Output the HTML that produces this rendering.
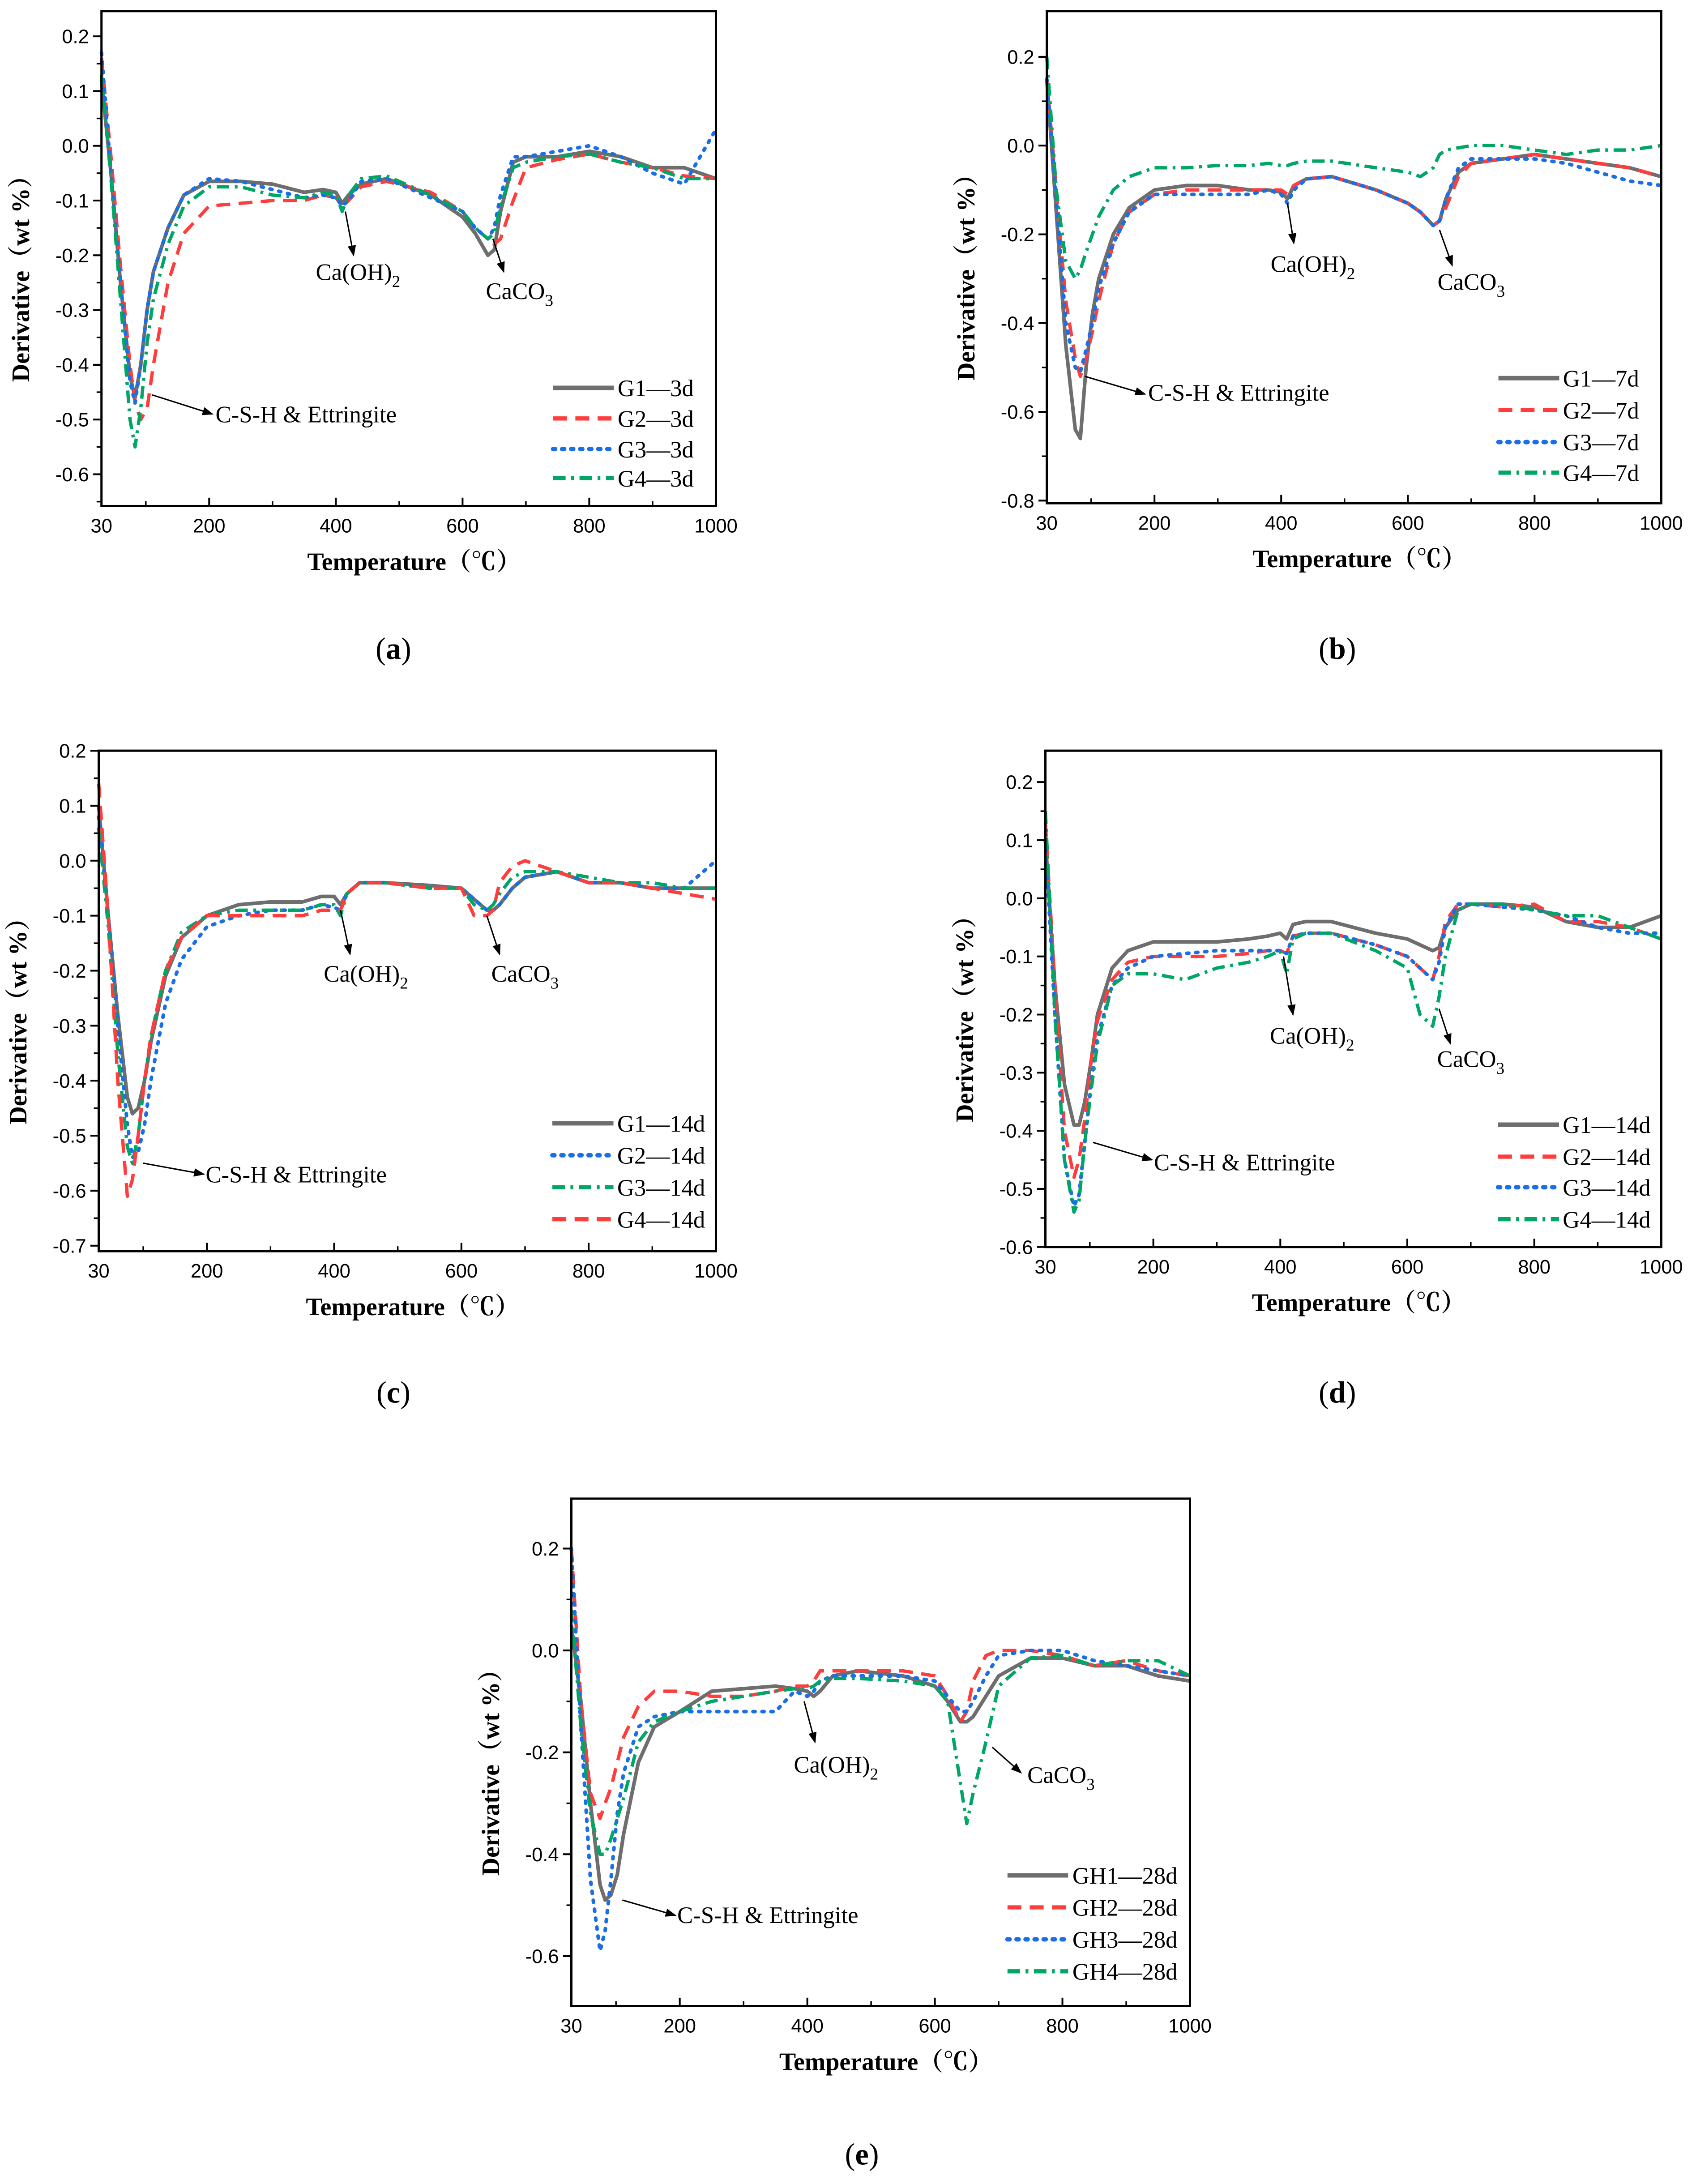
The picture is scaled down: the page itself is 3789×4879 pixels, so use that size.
<!DOCTYPE html>
<html><head><meta charset="utf-8"><style>
html,body{margin:0;padding:0;background:#fff}
svg{display:block}
.tk{font-family:"Liberation Sans",Arial,sans-serif;font-size:14px;fill:#000}
.ser{font-family:"Liberation Serif","Noto Serif CJK SC",serif;fill:#000}
</style></head><body>
<svg id="fig" width="3789" height="4879" viewBox="0 0 1220 1571" preserveAspectRatio="none" xmlns="http://www.w3.org/2000/svg">
<defs><marker id="arr" markerWidth="8" markerHeight="8" refX="7" refY="4" orient="auto" markerUnits="userSpaceOnUse"><path d="M0,1 L8,4 L0,7 Z" fill="#000"/></marker></defs>
</svg>
<script>
const temps=[30,45,60,75,83,92,102,112,135,160,200,250,300,350,380,400,410,420,440,480,550,600,620,640,650,660,680,700,750,800,850,900,950,1000];
const a_G1=[0.12,-0.05,-0.25,-0.42,-0.46,-0.40,-0.30,-0.23,-0.15,-0.09,-0.065,-0.065,-0.07,-0.085,-0.08,-0.085,-0.105,-0.09,-0.07,-0.06,-0.09,-0.13,-0.16,-0.2,-0.19,-0.12,-0.03,-0.02,-0.02,-0.01,-0.02,-0.04,-0.04,-0.06];
const a_G2=[0.16,-0.02,-0.22,-0.40,-0.47,-0.50,-0.48,-0.40,-0.25,-0.16,-0.11,-0.105,-0.10,-0.10,-0.09,-0.095,-0.11,-0.10,-0.075,-0.065,-0.085,-0.12,-0.15,-0.17,-0.18,-0.17,-0.10,-0.04,-0.025,-0.015,-0.03,-0.04,-0.055,-0.06];
const a_G3=[0.17,-0.05,-0.25,-0.43,-0.47,-0.40,-0.30,-0.23,-0.15,-0.09,-0.06,-0.065,-0.08,-0.095,-0.09,-0.095,-0.11,-0.10,-0.065,-0.06,-0.095,-0.12,-0.15,-0.17,-0.15,-0.09,-0.02,-0.02,-0.01,0.0,-0.02,-0.05,-0.07,0.03];
const a_G4=[0.13,-0.06,-0.28,-0.50,-0.55,-0.48,-0.36,-0.28,-0.18,-0.11,-0.075,-0.075,-0.09,-0.095,-0.085,-0.09,-0.12,-0.09,-0.06,-0.055,-0.09,-0.12,-0.15,-0.17,-0.16,-0.11,-0.04,-0.03,-0.02,-0.015,-0.03,-0.04,-0.06,-0.06];
const b_G1=[0.15,-0.15,-0.45,-0.64,-0.66,-0.50,-0.38,-0.30,-0.20,-0.14,-0.10,-0.09,-0.09,-0.10,-0.10,-0.105,-0.12,-0.09,-0.075,-0.07,-0.10,-0.13,-0.15,-0.18,-0.17,-0.12,-0.06,-0.04,-0.03,-0.02,-0.03,-0.04,-0.05,-0.07];
const b_G2=[0.15,-0.1,-0.35,-0.48,-0.52,-0.48,-0.42,-0.35,-0.22,-0.15,-0.11,-0.10,-0.10,-0.10,-0.10,-0.10,-0.11,-0.09,-0.075,-0.07,-0.10,-0.13,-0.15,-0.18,-0.17,-0.14,-0.07,-0.04,-0.03,-0.02,-0.03,-0.04,-0.05,-0.07];
const b_G3=[0.15,-0.12,-0.40,-0.50,-0.51,-0.46,-0.40,-0.32,-0.22,-0.15,-0.11,-0.11,-0.11,-0.11,-0.10,-0.11,-0.13,-0.10,-0.075,-0.07,-0.10,-0.13,-0.15,-0.18,-0.17,-0.12,-0.05,-0.03,-0.03,-0.03,-0.04,-0.06,-0.08,-0.09];
const b_G4=[0.2,-0.1,-0.26,-0.30,-0.28,-0.24,-0.20,-0.16,-0.10,-0.07,-0.05,-0.05,-0.045,-0.045,-0.04,-0.045,-0.045,-0.04,-0.035,-0.035,-0.05,-0.06,-0.07,-0.05,-0.02,-0.01,-0.005,0.0,0.0,-0.01,-0.02,-0.01,-0.01,0.0];
const c_G1=[0.1,-0.1,-0.28,-0.43,-0.46,-0.45,-0.40,-0.33,-0.21,-0.14,-0.10,-0.08,-0.075,-0.075,-0.065,-0.065,-0.08,-0.06,-0.04,-0.04,-0.045,-0.05,-0.07,-0.09,-0.09,-0.08,-0.05,-0.03,-0.02,-0.04,-0.04,-0.05,-0.05,-0.05];
const c_G2=[0.08,-0.1,-0.30,-0.48,-0.54,-0.53,-0.48,-0.40,-0.26,-0.18,-0.12,-0.10,-0.09,-0.09,-0.08,-0.085,-0.09,-0.06,-0.04,-0.04,-0.05,-0.05,-0.07,-0.09,-0.09,-0.08,-0.05,-0.03,-0.02,-0.04,-0.04,-0.05,-0.05,0.0];
const c_G3=[0.06,-0.12,-0.35,-0.52,-0.55,-0.50,-0.40,-0.32,-0.20,-0.13,-0.10,-0.09,-0.09,-0.09,-0.08,-0.08,-0.10,-0.06,-0.04,-0.04,-0.05,-0.05,-0.08,-0.09,-0.08,-0.06,-0.03,-0.02,-0.02,-0.03,-0.04,-0.04,-0.05,-0.05];
const c_G4=[0.14,-0.1,-0.40,-0.61,-0.58,-0.50,-0.40,-0.32,-0.20,-0.14,-0.10,-0.10,-0.10,-0.10,-0.09,-0.09,-0.09,-0.06,-0.04,-0.04,-0.05,-0.05,-0.10,-0.10,-0.09,-0.04,-0.01,0.0,-0.02,-0.04,-0.04,-0.05,-0.06,-0.07];
const d_G1=[0.1,-0.15,-0.32,-0.39,-0.39,-0.35,-0.28,-0.20,-0.12,-0.09,-0.075,-0.075,-0.075,-0.07,-0.065,-0.06,-0.07,-0.045,-0.04,-0.04,-0.06,-0.07,-0.08,-0.09,-0.085,-0.05,-0.02,-0.01,-0.01,-0.015,-0.04,-0.05,-0.05,-0.03];
const d_G2=[0.13,-0.15,-0.40,-0.48,-0.45,-0.38,-0.28,-0.21,-0.14,-0.11,-0.10,-0.10,-0.10,-0.095,-0.09,-0.09,-0.095,-0.065,-0.06,-0.06,-0.08,-0.10,-0.12,-0.14,-0.10,-0.04,-0.01,-0.01,-0.015,-0.01,-0.04,-0.04,-0.05,-0.07];
const d_G3=[0.1,-0.2,-0.45,-0.53,-0.51,-0.42,-0.32,-0.24,-0.15,-0.12,-0.10,-0.095,-0.09,-0.09,-0.09,-0.09,-0.095,-0.065,-0.06,-0.06,-0.08,-0.10,-0.12,-0.14,-0.11,-0.05,-0.01,-0.01,-0.015,-0.02,-0.03,-0.05,-0.06,-0.06];
const d_G4=[0.15,-0.2,-0.45,-0.54,-0.52,-0.42,-0.33,-0.25,-0.15,-0.13,-0.13,-0.14,-0.12,-0.11,-0.10,-0.09,-0.13,-0.07,-0.06,-0.06,-0.09,-0.12,-0.20,-0.22,-0.17,-0.10,-0.02,-0.01,-0.01,-0.02,-0.03,-0.03,-0.05,-0.07];
const e_GH1=[0.05,-0.1,-0.30,-0.46,-0.49,-0.48,-0.44,-0.36,-0.22,-0.15,-0.12,-0.08,-0.075,-0.07,-0.075,-0.08,-0.09,-0.08,-0.05,-0.04,-0.05,-0.07,-0.10,-0.14,-0.14,-0.13,-0.09,-0.05,-0.015,-0.015,-0.03,-0.03,-0.05,-0.06];
const e_GH2=[0.2,-0.1,-0.28,-0.33,-0.30,-0.27,-0.22,-0.17,-0.11,-0.08,-0.08,-0.09,-0.09,-0.08,-0.07,-0.07,-0.06,-0.04,-0.04,-0.04,-0.04,-0.05,-0.09,-0.14,-0.12,-0.06,-0.01,0.0,0.0,-0.01,-0.03,-0.02,-0.04,-0.05];
const e_GH3=[0.2,-0.15,-0.45,-0.59,-0.55,-0.45,-0.32,-0.24,-0.15,-0.13,-0.12,-0.12,-0.12,-0.12,-0.08,-0.09,-0.08,-0.06,-0.05,-0.05,-0.05,-0.06,-0.09,-0.12,-0.12,-0.10,-0.05,-0.01,0.0,0.0,-0.02,-0.03,-0.04,-0.05];
const e_GH4=[0.08,-0.15,-0.32,-0.40,-0.40,-0.37,-0.33,-0.29,-0.18,-0.14,-0.12,-0.10,-0.09,-0.08,-0.075,-0.075,-0.07,-0.06,-0.055,-0.055,-0.06,-0.07,-0.10,-0.26,-0.34,-0.28,-0.18,-0.07,-0.015,-0.01,-0.03,-0.02,-0.02,-0.05];
const xTickLabels=["30","200","400","600","800","1000"];
const xTickVals=[30,200,400,600,800,1000];
const yTicksA=[0.2,0.1,0.0,-0.1,-0.2,-0.3,-0.4,-0.5,-0.6];
const yTicksB=[0.2,0.0,-0.2,-0.4,-0.6,-0.8];
const yTicksC=[0.2,0.1,0.0,-0.1,-0.2,-0.3,-0.4,-0.5,-0.6,-0.7];
const yTicksD=[0.2,0.1,0.0,-0.1,-0.2,-0.3,-0.4,-0.5,-0.6];
const yTicksE=[0.2,0.0,-0.2,-0.4,-0.6];
const namesA=["G1—3d","G2—3d","G3—3d","G4—3d"];
const namesB=["G1—7d","G2—7d","G3—7d","G4—7d"];
const namesC=["G1—14d","G2—14d","G3—14d","G4—14d"];
const namesD=["G1—14d","G2—14d","G3—14d","G4—14d"];
const namesE=["GH1—28d","GH2—28d","GH3—28d","GH4—28d"];

const NS="http://www.w3.org/2000/svg";
const svg=document.getElementById('fig');
const ST={grey:{c:"#6e6e6e",d:"",w:2.6},red:{c:"#ff3d3d",d:"10,6",w:2.4},blue:{c:"#1a6ee6",d:"1.5,5",w:2.6},green:{c:"#00a665",d:"9,4,2,4",w:2.4}};
function mk(tag,attrs,parent){const e=document.createElementNS(NS,tag);for(const k in attrs)e.setAttribute(k,attrs[k]);(parent||svg).appendChild(e);return e;}

function panel(p){
  const g=mk('g',{});
  
  
  const sx=t=>p.x0+(t-30)/970*(p.x1-p.x0);
  const sy=v=>p.y0+(p.ymax-v)/(p.ymax-p.ymin)*(p.y1-p.y0);
  p.series.forEach((s,i)=>{
    const st=ST[p.styles[i]];
    const d=temps.map((t,j)=>(j?'L':'M')+sx(t).toFixed(2)+','+sy(s[j]).toFixed(2)).join(' ');
    const path=mk('path',{d:d,fill:'none',stroke:st.c,'stroke-width':st.w,'stroke-dasharray':st.d,'stroke-linecap':p.styles[i]==='blue'?'round':'butt','stroke-linejoin':'round'},g);
    
    
  });
  const fr=mk('rect',{x:p.x0,y:p.y0,width:p.x1-p.x0,height:p.y1-p.y0,fill:'none',stroke:'#000','stroke-width':1.6},g);
  
  
  xTickVals.forEach((t,i)=>{
    const x=sx(t);
    mk('line',{x1:x,x2:x,y1:p.y1,y2:p.y1-6,stroke:'#000','stroke-width':1.3},g);
    const tx=mk('text',{x:x,y:p.y1+19,'text-anchor':'middle',class:'tk'},g);
    tx.textContent=xTickLabels[i];
    
    
  });
  [100,300,500,700,900].forEach(t=>{const x=sx(t);mk('line',{x1:x,x2:x,y1:p.y1,y2:p.y1-3.5,stroke:'#000','stroke-width':1.1},g);});
  const step=p.yticks[0]-p.yticks[1];
  p.yticks.forEach(v=>{
    const y=sy(v);
    mk('line',{x1:p.x0,x2:p.x0-6,y1:y,y2:y,stroke:'#000','stroke-width':1.3},g);
    const mv=v-step/2;
    if(mv>p.ymin) mk('line',{x1:p.x0,x2:p.x0-3.5,y1:sy(mv),y2:sy(mv),stroke:'#000','stroke-width':1.1},g);
    const tx=mk('text',{x:p.x0-9,y:y+5,'text-anchor':'end',class:'tk'},g);
    tx.textContent=v.toFixed(1);
    
    
  });
  const xt=mk('text',{x:(p.x0+p.x1)/2+4,y:p.y1+46,'text-anchor':'middle',class:'ser','font-size':18,'font-weight':'bold'},g);
  xt.textContent='Temperature（℃）';
  
  
  const cy=(p.y0+p.y1)/2+10;
  const yt=mk('text',{x:0,y:0,transform:`translate(${p.x0-52},${cy}) rotate(-90)`,'text-anchor':'middle',class:'ser','font-size':18,'font-weight':'bold'},g);
  yt.textContent='Derivative（wt %）';
  
  
  const pl=mk('text',{x:p.lx,y:p.ly,'text-anchor':'middle',class:'ser','font-size':22},g);
  pl.innerHTML='(<tspan font-weight="bold">'+p.id+'</tspan>)';
  
  
  const W=p.x1-p.x0;
  p.names.forEach((n,i)=>{
    const st=ST[p.styles[i]];
    const y=p.legY[i];
    const ln=mk('line',{x1:p.x0+W*p.leg[0],x2:p.x0+W*p.leg[1],y1:y,y2:y,stroke:st.c,'stroke-width':st.w+0.6,'stroke-dasharray':st.d,'stroke-linecap':p.styles[i]==='blue'?'round':'butt'},g);
    
    
    const tx=mk('text',{x:p.x0+W*p.leg[2],y:y+6,class:'ser','font-size':17},g);
    tx.textContent=n;
    
    
  });
  p.ann.forEach(a=>{
    const l=mk('line',{x1:sx(a.f[0]),y1:sy(a.f[1]),x2:sx(a.t[0]),y2:sy(a.t[1]),stroke:'#000','stroke-width':1,'marker-end':'url(#arr)'},g);
    
    
    const tx=mk('text',{x:sx(a.p[0]),y:sy(a.p[1]),'text-anchor':a.anchor||'start',class:'ser','font-size':17},g);
    tx.innerHTML=a.txt;
    
    
  });
}
const OH='Ca(OH)<tspan font-size="12" dy="5">2</tspan>';
const CO='CaCO<tspan font-size="12" dy="5">3</tspan>';
const CSH='C-S-H &amp; Ettringite';
const sty4=["grey","red","blue","green"];
panel({id:'a',x0:73,x1:515,y0:8,y1:364,ymax:0.246,ymin:-0.658,series:[a_G1,a_G2,a_G3,a_G4],styles:sty4,names:namesA,yticks:yTicksA,
  lx:283,ly:474,leg:[0.735,0.834,0.84],legY:[279,301,323,344],
  ann:[{f:[110,-0.455],t:[205,-0.49],p:[210,-0.505],txt:CSH},{f:[415,-0.12],t:[428,-0.2],p:[435,-0.245],anchor:'middle',txt:OH},{f:[648,-0.17],t:[665,-0.23],p:[690,-0.28],anchor:'middle',txt:CO}]});
panel({id:'b',x0:753,x1:1195,y0:8,y1:362,ymax:0.303,ymin:-0.806,series:[b_G1,b_G2,b_G3,b_G4],styles:sty4,names:namesB,yticks:yTicksB,
  lx:962,ly:474,leg:[0.735,0.834,0.84],legY:[272,295,318,340],
  ann:[{f:[90,-0.52],t:[185,-0.56],p:[190,-0.575],txt:CSH},{f:[410,-0.13],t:[420,-0.22],p:[450,-0.285],anchor:'middle',txt:OH},{f:[650,-0.19],t:[670,-0.27],p:[700,-0.325],anchor:'middle',txt:CO}]});
panel({id:'c',x0:71,x1:515,y0:540,y1:900,ymax:0.2,ymin:-0.71,series:[c_G1,c_G2,c_G3,c_G4],styles:["grey","blue","green","red"],names:namesC,yticks:yTicksC,
  lx:283,ly:1009,leg:[0.735,0.834,0.84],legY:[808,831,854,877],
  ann:[{f:[100,-0.55],t:[195,-0.57],p:[198,-0.585],txt:CSH},{f:[410,-0.09],t:[425,-0.17],p:[450,-0.22],anchor:'middle',txt:OH},{f:[640,-0.10],t:[660,-0.17],p:[700,-0.22],anchor:'middle',txt:CO}]});
panel({id:'d',x0:752,x1:1195,y0:540,y1:897,ymax:0.254,ymin:-0.6,series:[d_G1,d_G2,d_G3,d_G4],styles:sty4,names:namesD,yticks:yTicksD,
  lx:962,ly:1009,leg:[0.735,0.834,0.84],legY:[809,832,854,877],
  ann:[{f:[105,-0.42],t:[198,-0.45],p:[201,-0.468],txt:CSH},{f:[405,-0.10],t:[420,-0.20],p:[450,-0.25],anchor:'middle',txt:OH},{f:[650,-0.19],t:[668,-0.25],p:[700,-0.29],anchor:'middle',txt:CO}]});
panel({id:'e',x0:411,x1:856,y0:1078,y1:1443,ymax:0.298,ymin:-0.698,series:[e_GH1,e_GH2,e_GH3,e_GH4],styles:sty4,names:namesE,yticks:yTicksE,
  lx:620,ly:1557,leg:[0.705,0.803,0.81],legY:[1349,1372,1395,1418],
  ann:[{f:[110,-0.49],t:[193,-0.52],p:[196,-0.535],txt:CSH},{f:[395,-0.10],t:[412,-0.18],p:[445,-0.24],anchor:'middle',txt:OH},{f:[690,-0.19],t:[735,-0.24],p:[745,-0.26],txt:CO}]});
</script>
</body></html>
